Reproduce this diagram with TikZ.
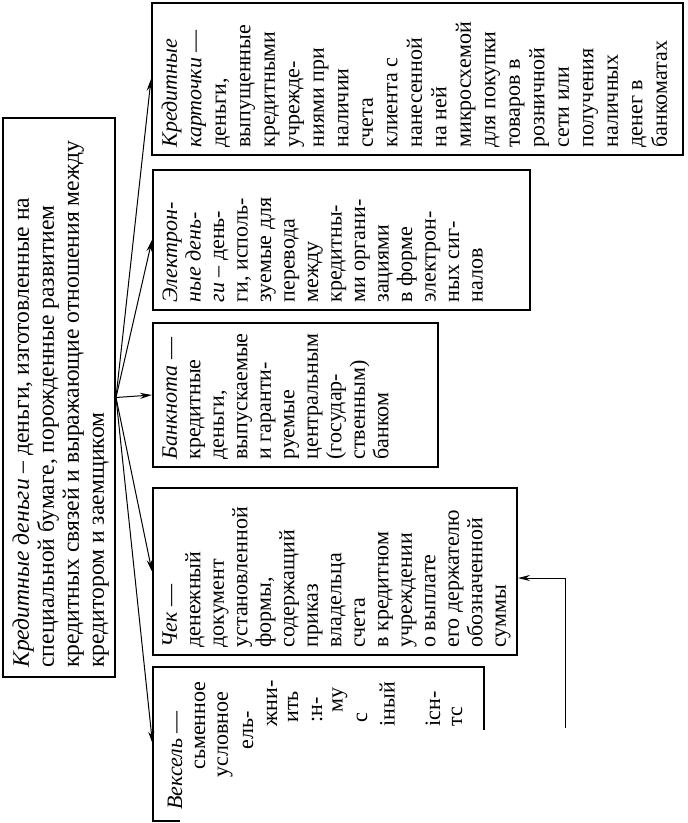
\documentclass[tikz,border=0pt]{standalone}
\usepackage{fontspec}
\setmainfont{Liberation Serif}
\usetikzlibrary{arrows.meta}

\tikzset{
  box/.style={draw, line width=1pt, rotate=90, inner sep=0pt},
  boxtext/.style={rotate=90, anchor=north west, align=left, inner xsep=4pt, inner ysep=5pt,
    font=\fontsize{11}{11.75}\selectfont},
  frag/.style={rotate=90, anchor=west, inner sep=0pt, font=\fontsize{11}{11.75}\selectfont},
}

\begin{document}
\begin{tikzpicture}[x=0.5pt,y=-0.5pt,>={Stealth[length=6pt,width=3pt]},line width=0.5pt]
  \useasboundingbox (0,0) rectangle (687,823);
  % boxes (rotated, text runs upwards)
  \node[box, minimum width=279.5pt, minimum height=56pt] (money) at (59,397.5) {};
  \node[box, minimum width=76pt, minimum height=265.5pt] (cards) at (417.5,79) {};
  \node[box, minimum width=70pt, minimum height=188.5pt] (emoney) at (341.5,240) {};
  \node[box, minimum width=72pt, minimum height=142.5pt] (note) at (295.5,395) {};
  \node[box, minimum width=83.5pt, minimum height=182pt] (cheque) at (335,571.5) {};
  \node[rotate=90, inner sep=0pt, minimum width=76.5pt, minimum height=165pt] (bill) at (318,743.5) {};
  \draw[line width=1pt] (bill.north west) ++(27,0) -- (bill.north west) -- (bill.north east)
    -- (bill.south east) -- ++(0,63);

  % texts
  \node[boxtext, inner xsep=5pt, inner ysep=5pt, font=\fontsize{11.8}{12.5}\selectfont] (moneyT) at (money.north west)
    {\textit{Кредитные деньги} -- деньги, изготовленные на\\
     специальной бумаге, порожденные развитием\\
     кредитных связей и выражающие отношения между\\
     кредитором и заемщиком};
  \node[boxtext, font=\fontsize{11}{12.25}\selectfont] (cardsT) at (cards.north west)
    {\textit{Кредитные}\\ \textit{карточки} ---\\ деньги,\\ выпущенные\\ кредитными\\ учрежде-\\
     ниями при\\ наличии\\ счета\\ клиента с\\ нанесенной\\ на ней\\ микросхемой\\
     для покупки\\ товаров в\\ розничной\\ сети или\\ получения\\ наличных\\ денег в\\ банкоматах};
  \node[boxtext] (emoneyT) at (emoney.north west)
    {\textit{Электрон-}\\ \textit{ные день-}\\ \textit{ги} -- день-\\ ги, исполь-\\ зуемые для\\
     перевода\\ между\\ кредитны-\\ ми органи-\\ зациями\\ в форме\\ электрон-\\ ных сиг-\\ налов};
  \node[boxtext] (noteT) at (note.north west)
    {\textit{Банкнота} ---\\ кредитные\\ деньги,\\ выпускаемые\\ и гаранти-\\ руемые\\
     центральным\\ (государ-\\ ственным)\\ банком};
  \node[boxtext] (chequeT) at (cheque.north west)
    {\textit{Чек} ---\\ денежный\\ документ\\ установленной\\ формы,\\ содержащий\\ приказ\\
     владельца\\ счета\\ в кредитном\\ учреждении\\ о выплате\\ его держателю\\ обозначенной\\ суммы};
  \foreach \px/\py/\txt in {175/810/\textit{Вексель} ---, 200/770/сьменное, 225/778/условное,
      248/750/ель-, 272/727/жни-, 293/723/ить, 317/723/:н-, 340/713/му, 362/723/с,
      387/727/iный, 433/727/існ-, 457/727/тс}
    \node[frag] at (\px,\py) {\txt};

  % connectors
  \draw[->] (money.south) -- (cards.north);
  \draw[->] (money.south) -- (emoney.north);
  \draw[->] (money.south) -- (note.north);
  \draw[->] (money.south) -- (cheque.north);
  \draw[->] (money.south) -- (bill.north);
  \coordinate (loose) at (565,728);
  \draw[->] (loose) |- ([yshift=-3.25pt]cheque.south);
\end{tikzpicture}
\end{document}
